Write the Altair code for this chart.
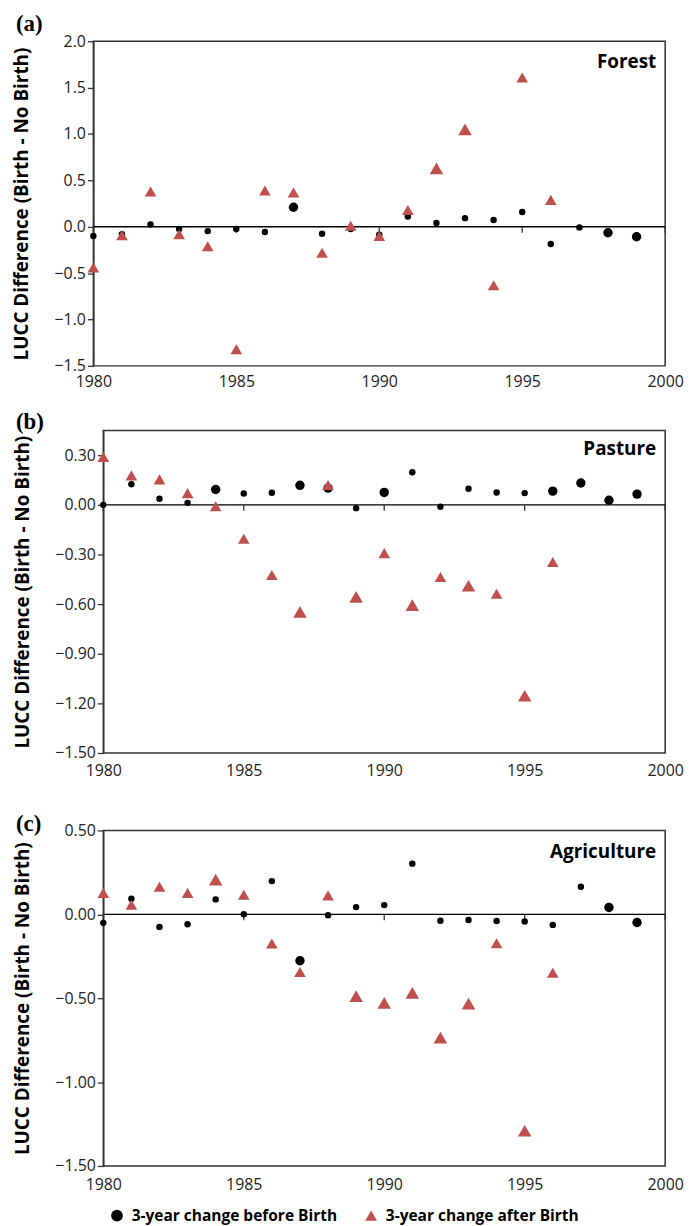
import altair as alt
import pandas as pd

years = list(range(1980, 2000))
after_years = list(range(1980, 1997))
tick_years = [1980, 1985, 1990, 1995, 2000]

SERIES = ["3-year change before Birth", "3-year change after Birth"]
Y_TITLE = "LUCC Difference (Birth - No Birth)"

# Forest
forest_before = [-0.10, -0.08, 0.025, -0.025, -0.047, -0.025, -0.057, 0.21, -0.075, -0.025,
                 -0.086, 0.11, 0.04, 0.093, 0.072, 0.16, -0.186, -0.007, -0.065, -0.108]
forest_after = [-0.44, -0.09, 0.38, -0.08, -0.21, -1.32, 0.39, 0.37, -0.28, 0.01,
                -0.10, 0.18, 0.63, 1.05, -0.63, 1.61, 0.29]
forest_before_large = [1987, 1998, 1999]
forest_after_large = [1992, 1993]

# Pasture
pasture_before = [0.00, 0.124, 0.037, 0.012, 0.093, 0.069, 0.073, 0.118, 0.101, -0.02,
                  0.075, 0.197, -0.012, 0.097, 0.075, 0.071, 0.083, 0.132, 0.028, 0.065]
pasture_after = [0.29, 0.178, 0.154, 0.071, -0.008, -0.205, -0.424, -0.647, 0.12, -0.556,
                 -0.292, -0.606, -0.436, -0.489, -0.537, -1.154, -0.345]
pasture_before_large = [1984, 1987, 1988, 1990, 1996, 1997, 1998, 1999]
pasture_after_large = [1987, 1989, 1991, 1993, 1995]

# Agriculture
agri_before = [-0.051, 0.093, -0.075, -0.059, 0.089, 0.0, 0.198, -0.277, -0.006, 0.043,
               0.055, 0.302, -0.038, -0.034, -0.040, -0.043, -0.063, 0.164, 0.041, -0.049]
agri_after = [0.128, 0.057, 0.164, 0.128, 0.207, 0.117, -0.174, -0.344, 0.113, -0.488,
              -0.528, -0.468, -0.735, -0.532, -0.172, -1.29, -0.348]
agri_before_large = [1987, 1998, 1999]
agri_after_large = [1984, 1989, 1990, 1991, 1992, 1993, 1995]

CLS = ["b_small", "b_large", "a_small", "a_large"]
RED = "#c0504d"
FONT = "Open Sans"
BORDER = "#333"


def make_df(before, after, before_large, after_large):
    rows = []
    for y, v in zip(years, before):
        rows.append(dict(year=y, value=v, series=SERIES[0],
                         cls="b_large" if y in before_large else "b_small"))
    for y, v in zip(after_years, after):
        rows.append(dict(year=y, value=v, series=SERIES[1],
                         cls="a_large" if y in after_large else "a_small"))
    return pd.DataFrame(rows)


def panel(df, name, label, width, height, ydomain, yticks, fmt, name_y, label_y,
          xpad, legend=None, shift=0):
    xscale = alt.Scale(domain=[1980, 2000], nice=False, zero=False)
    if shift:
        xscale = alt.Scale(domain=[1980, 2000], nice=False, zero=False, range=[-shift, width])
    xenc = alt.X("year:Q", scale=xscale,
                 axis=alt.Axis(values=tick_years, format="d", ticks=False, domain=False,
                               grid=False, labelPadding=xpad, labelFlush=False, title=None))
    yscale = alt.Scale(domain=ydomain, nice=False, zero=False)
    yax = dict(values=yticks, format=fmt, grid=False, tickSize=6, labelPadding=2,
               title=Y_TITLE, titlePadding=23)
    if shift:
        yax["offset"] = shift
    yenc = alt.Y("value:Q", scale=yscale, axis=alt.Axis(**yax))
    pts = alt.Chart(df).mark_point(filled=True, opacity=1, strokeWidth=0).encode(
        x=xenc,
        y=yenc,
        color=alt.Color("series:N", scale=alt.Scale(domain=SERIES, range=["black", RED]),
                        legend=legend),
        shape=alt.Shape("series:N",
                        scale=alt.Scale(domain=SERIES, range=["circle", "triangle-up"]),
                        legend=legend),
        size=alt.Size("cls:N", scale=alt.Scale(domain=CLS, range=[42, 185, 62, 205]),
                      legend=None),
    )
    zero = alt.Chart(pd.DataFrame({"v": [0.0]})).mark_rule(
        color="black", strokeWidth=1.3).encode(
        y=alt.Y("v:Q", scale=yscale), x=alt.value(-shift), x2=alt.value(width))
    ticks = alt.Chart(pd.DataFrame({"year": tick_years, "v": [0.0] * len(tick_years)})).mark_rule(
        color=BORDER, strokeWidth=1.3, y2Offset=6).encode(
        x=alt.X("year:Q"), y=alt.Y("v:Q", scale=yscale), y2="v:Q")
    name_txt = alt.Chart(pd.DataFrame({"t": [name]})).mark_text(
        align="right", baseline="middle", font=FONT, fontWeight="bold", fontSize=19,
        color="black").encode(x=alt.value(width - 9), y=alt.value(name_y), text="t:N")
    lab_txt = alt.Chart(pd.DataFrame({"t": [label]})).mark_text(
        align="left", baseline="middle", font="Liberation Serif", fontWeight="bold",
        fontSize=23, color="black").encode(x=alt.value(-88), y=alt.value(label_y),
                                           text="t:N")
    layers = [zero, ticks, pts, name_txt, lab_txt]
    props = dict(width=width, height=height)
    if shift:
        border = alt.Chart(pd.DataFrame({"d": [0]})).mark_rect(
            fillOpacity=0, stroke=BORDER, strokeWidth=1.5).encode(
            x=alt.value(-shift), x2=alt.value(width), y=alt.value(0), y2=alt.value(height))
        layers = [border] + layers
        props["view"] = alt.ViewBackground(stroke="transparent")
    return alt.layer(*layers).properties(**props)


legend = alt.Legend(orient="none", legendX=6, legendY=380, direction="horizontal",
                    title=None, labelFont=FONT, labelFontSize=15.6, labelFontWeight="bold",
                    labelColor="black", labelLimit=400, symbolSize=140, symbolStrokeWidth=0,
                    labelOffset=7, columnPadding=26, padding=0)

pa = panel(make_df(forest_before, forest_after, forest_before_large, forest_after_large),
           "Forest", "(a)", 566, 327, [-1.5, 2.0], [-1.5, -1.0, -0.5, 0.0, 0.5, 1.0, 1.5, 2.0],
           ".1f", 21, -17, 8, shift=10)
pb = panel(make_df(pasture_before, pasture_after, pasture_before_large, pasture_after_large),
           "Pasture", "(b)", 566, 325, [-1.5, 0.45], [-1.5, -1.2, -0.9, -0.6, -0.3, 0.0, 0.3],
           ".2f", 19, -8, 10)
pc = panel(make_df(agri_before, agri_after, agri_before_large, agri_after_large),
           "Agriculture", "(c)", 566, 338, [-1.5, 0.5], [-1.5, -1.0, -0.5, 0.0, 0.5],
           ".2f", 22, -6, 11, legend=legend)

inner = alt.vconcat(pb, pc, spacing=78, bounds="flush").resolve_scale(
    color="independent", shape="independent", size="independent")
chart = alt.vconcat(pa, inner, spacing=65, bounds="flush").resolve_scale(
    color="independent", shape="independent", size="independent"
).properties(
    padding={"left": 3, "top": 0, "right": 0, "bottom": 0}
).configure_view(
    stroke=BORDER, strokeWidth=1.5
).configure_axis(
    labelFont=FONT, labelFontSize=16, labelColor="#222",
    titleFont=FONT, titleFontSize=19, titleFontWeight="bold", titleColor="black",
    tickColor=BORDER, domainColor=BORDER, domainWidth=1.5, tickWidth=1.3
)

chart.save("out.html", embed_options={"renderer": "svg", "actions": False})
